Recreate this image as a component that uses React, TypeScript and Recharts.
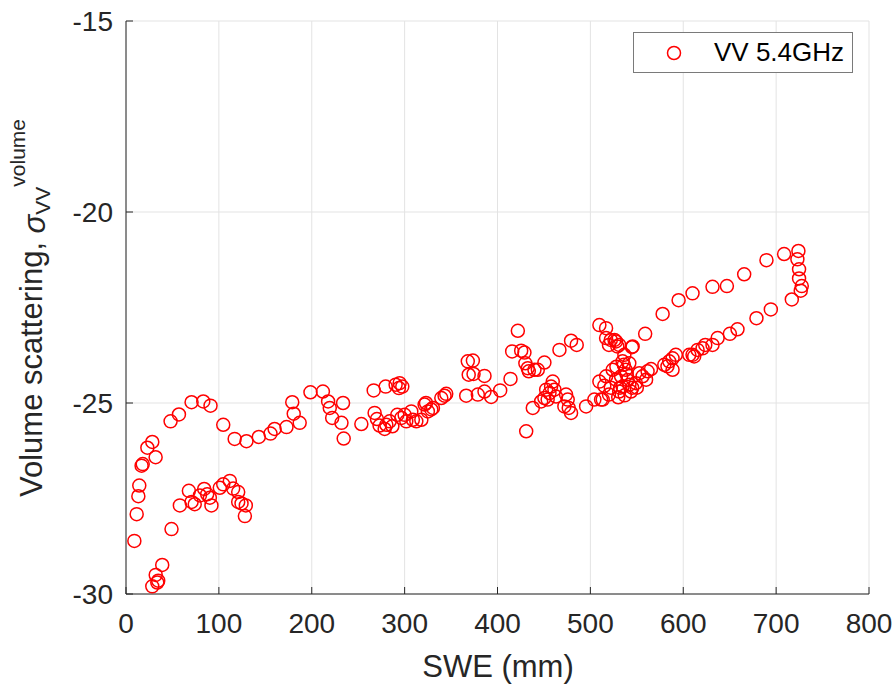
import React from "react";
import { ScatterChart, Scatter, XAxis, YAxis, CartesianGrid, Legend } from "recharts";

// SWE (mm) vs volume scattering (dB)
const lowSweBranch: [number, number][] = [
  [9, -28.61], [11.5, -27.91], [13.3, -27.44], [14.3, -27.16], [16.8, -26.64], [18, -26.6],
  [23, -26.17], [28.3, -26.02], [31.9, -26.42], [48, -25.48], [57, -25.3], [70.6, -24.98],
  [83.2, -24.96], [91, -25.07], [104.7, -25.57], [117, -25.94], [129.7, -26.0], [143, -25.89],
  [155.6, -25.8], [160, -25.68],
  [28.3, -29.8], [33.7, -29.7], [34.7, -29.65], [32, -29.5], [39, -29.24], [49, -28.3],
];

const lowSweCluster: [number, number][] = [
  [58, -27.68], [67.7, -27.3], [70.6, -27.59], [74, -27.65], [79.6, -27.42], [84.2, -27.25],
  [87.4, -27.39], [90.3, -27.48], [92, -27.68], [101, -27.22], [104.7, -27.13], [111.8, -27.04],
  [115.4, -27.24], [120.8, -27.33], [120.8, -27.59], [124.4, -27.63], [129, -27.68], [128, -27.96],
];

const midSwe: [number, number][] = [
  [172.8, -25.63], [179, -24.98], [180.6, -25.28], [187, -25.52], [198.6, -24.72], [212, -24.7],
  [217.6, -24.96], [219.4, -25.13], [233.7, -25.0], [222, -25.39], [232, -25.52], [234.4, -25.93],
  [253.4, -25.55], [266.7, -24.67], [279.6, -24.57], [290.3, -24.52], [294.6, -24.48], [297.5, -24.57],
  [293.9, -24.61], [267.7, -25.26], [270.2, -25.42], [273, -25.59], [278.5, -25.68], [280.3, -25.57],
  [283.9, -25.48], [286.8, -25.61], [292.1, -25.31], [296.5, -25.39], [300, -25.31], [301.8, -25.48],
  [307.2, -25.22], [308.9, -25.44], [312.6, -25.48], [318, -25.44], [321.5, -25.04], [325, -25.22],
  [330.5, -25.13], [339.5, -24.87], [343, -24.81], [344.8, -24.76], [366.3, -24.81], [369, -24.26],
  [368, -23.91], [323, -25.0], [328.7, -25.17],
];

const upperMidSwe: [number, number][] = [
  [373.5, -23.89], [374.2, -24.24], [386, -24.29], [378.8, -24.78], [386, -24.7], [393.2, -24.84],
  [402.9, -24.67], [414, -24.37], [415.8, -23.65], [421.9, -23.11], [425.5, -23.63], [429, -23.68],
  [430, -23.96], [432.6, -24.09], [433.7, -24.17], [439.8, -24.13], [443.4, -24.13], [450.5, -23.94],
  [438, -25.13], [430.9, -25.74], [447, -24.96], [450.5, -24.87], [452.4, -24.65], [456, -24.74],
  [457.7, -24.57], [459.5, -24.44], [461.3, -24.65], [454, -24.91], [463, -24.83], [473.8, -24.78],
  [475.6, -24.91], [472, -25.09], [476.7, -25.13], [479.2, -25.26], [466.7, -23.61], [479.2, -23.37],
  [485.3, -23.48], [495.4, -25.09], [504.3, -24.91], [511.5, -24.91],
];

const highSwe: [number, number][] = [
  [509.7, -22.96], [516.9, -23.04], [516.9, -23.3], [522, -23.35], [527.6, -23.39], [531, -23.48],
  [544.8, -23.54], [559, -23.19], [577.8, -22.67], [595, -22.31], [610, -22.13], [631.5, -21.96],
  [647, -21.94], [665.6, -21.63], [689.6, -21.26], [708.6, -21.1], [724, -21.02], [722.9, -21.24],
  [724.7, -21.5], [724.7, -21.74], [727.6, -21.94], [726.5, -22.06], [716.9, -22.29], [694.3, -22.55],
  [678.8, -22.78], [658.4, -23.07], [650.2, -23.19], [637, -23.3], [631.5, -23.48], [623.7, -23.48],
  [620.8, -23.57], [615.4, -23.61], [610, -23.74], [611.8, -23.78], [606.5, -23.74], [592, -23.74],
  [588.5, -23.83], [584.9, -23.91], [583, -24.04], [588.5, -24.13], [579.6, -24.0], [565.3, -24.11],
  [561.6, -24.17], [552.7, -24.22],
];

const denseCluster: [number, number][] = [
  [509.7, -24.44], [517, -24.3], [524, -24.13], [520, -23.48], [529, -23.52], [526, -23.35],
  [545.5, -23.52], [534.7, -23.91], [541.9, -23.96], [538, -24.13], [527.6, -24.39], [534.7, -24.57],
  [542, -24.52], [543.7, -24.7], [531, -24.7], [520, -24.78], [556.2, -24.3], [560, -24.39],
  [549, -24.48], [513.3, -24.91], [533, -24.3], [536.6, -23.74], [536, -24.0], [539, -24.25],
  [530, -24.85], [537, -24.8], [545, -24.6], [550, -24.6], [528, -24.05], [532, -24.6],
  [540, -24.4], [515, -24.55], [522, -24.6],
];

const xTicks = [0, 100, 200, 300, 400, 500, 600, 700, 800];
const yTicks = [-30, -25, -20, -15];

const data = [...lowSweBranch, ...lowSweCluster, ...midSwe, ...upperMidSwe, ...highSwe, ...denseCluster].map(
  ([x, y]) => ({ x, y })
);

const FONT = "'Liberation Sans', Arial, Helvetica, sans-serif";
const INK = "#262626";
const TICK = 7;

const BottomTick = (p: any) => (
  <g>
    <line x1={p.x} y1={p.y} x2={p.x} y2={p.y - TICK} stroke={INK} />
    <text x={p.x} y={p.y + 39} textAnchor="middle" fontSize={28} fontFamily={FONT} fill={INK}>
      {p.payload.value}
    </text>
  </g>
);
const TopTick = (p: any) => <line x1={p.x} y1={p.y} x2={p.x} y2={p.y + TICK} stroke={INK} />;
const LeftTick = (p: any) => (
  <g>
    <line x1={p.x} y1={p.y} x2={p.x + TICK} y2={p.y} stroke={INK} />
    <text x={p.x - 13} y={p.y + 10} textAnchor="end" fontSize={28} fontFamily={FONT} fill={INK}>
      {p.payload.value}
    </text>
  </g>
);
const RightTick = (p: any) => <line x1={p.x} y1={p.y} x2={p.x - TICK} y2={p.y} stroke={INK} />;

const XLabel = () => (
  <text x={498} y={677} textAnchor="middle" fontSize={31} fontFamily={FONT} fill={INK}>
    SWE (mm)
  </text>
);

const YLabel = () => (
  <text
    transform="translate(42,308) rotate(-90)"
    textAnchor="middle"
    fontSize={31}
    fontFamily={FONT}
    fill={INK}
  >
    <tspan>Volume scattering, </tspan>
    <tspan dy={3} fontStyle="italic">σ</tspan>
    <tspan dy={5} fontSize={21}>VV</tspan>
    <tspan dy={-25} fontSize={21}>volume</tspan>
  </text>
);

const LegendBox = () => (
  <div
    style={{
      boxSizing: "border-box",
      width: 220,
      height: 41,
      border: "1px solid #7a7a7a",
      background: "#fff",
      position: "relative",
      fontFamily: FONT,
      fontSize: 26,
      color: "#000",
    }}
  >
    <svg width={20} height={20} style={{ position: "absolute", left: 30, top: 10 }}>
      <circle cx={10} cy={10} r={6.5} fill="none" stroke="#ff0000" strokeWidth={1.5} />
    </svg>
    <span style={{ position: "absolute", left: 80, top: 4, lineHeight: "30px" }}>VV 5.4GHz</span>
  </div>
);

const Ring = (p: any) => (
  <circle cx={p.cx} cy={p.cy} r={6.5} fill="none" stroke="#ff0000" strokeWidth={1.5} />
);

export default function App() {
  return (
    <div style={{ position: "absolute", left: 0, top: 0, width: 894, height: 684, background: "#fff" }}>
      <ScatterChart width={894} height={684} margin={{ top: 21, right: 25, bottom: 0, left: 0 }}>
        <CartesianGrid stroke="#e3e3e3" />
        <XAxis
          dataKey="x"
          type="number"
          domain={[0, 800]}
          ticks={xTicks}
          interval={0}
          height={90}
          tickSize={0}
          tickMargin={0}
          tick={BottomTick}
          axisLine={{ stroke: INK }}
          label={<XLabel />}
        />
        <XAxis
          xAxisId="top"
          orientation="top"
          type="number"
          domain={[0, 800]}
          ticks={xTicks}
          interval={0}
          height={0}
          tickSize={0}
          tickMargin={0}
          tick={TopTick}
          axisLine={{ stroke: INK }}
        />
        <YAxis
          dataKey="y"
          type="number"
          domain={[-30, -15]}
          ticks={yTicks}
          interval={0}
          width={126}
          tickSize={0}
          tickMargin={0}
          tick={LeftTick}
          axisLine={{ stroke: INK }}
          label={<YLabel />}
        />
        <YAxis
          yAxisId="right"
          orientation="right"
          type="number"
          domain={[-30, -15]}
          ticks={yTicks}
          interval={0}
          width={0}
          tickSize={0}
          tickMargin={0}
          tick={RightTick}
          axisLine={{ stroke: INK }}
        />
        <Legend
          layout="horizontal"
          verticalAlign="middle"
          align="center"
          wrapperStyle={{ left: 633, top: 32, width: 220, height: 41 }}
          content={() => <LegendBox />}
        />
        <Scatter name="VV 5.4GHz" data={data} shape={Ring} isAnimationActive={false} />
      </ScatterChart>
    </div>
  );
}
